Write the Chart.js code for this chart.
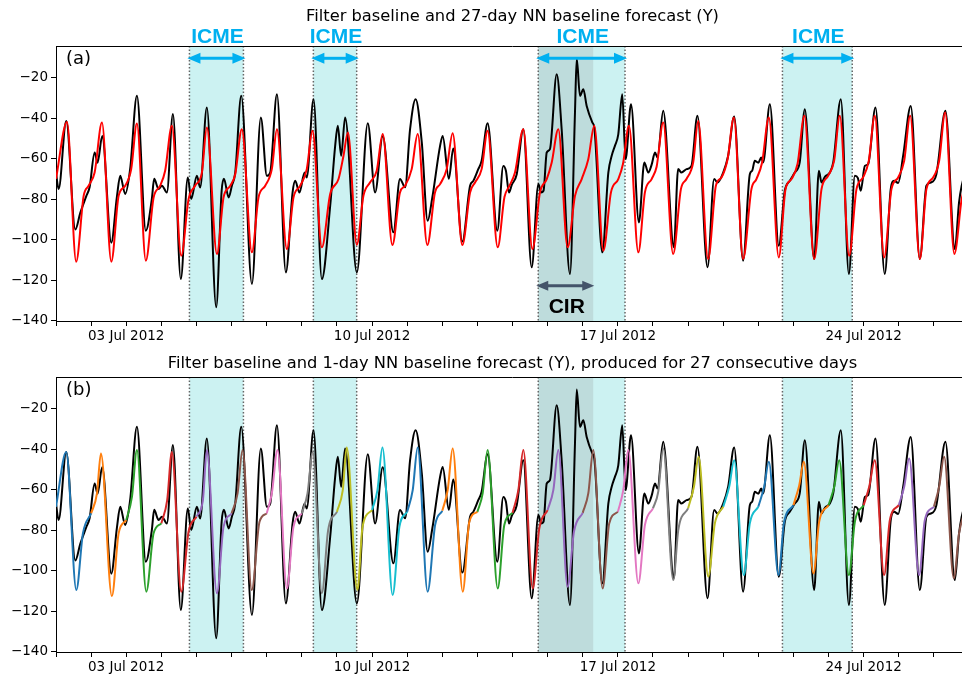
<!DOCTYPE html>
<html><head><meta charset="utf-8">
<script src="https://cdn.jsdelivr.net/npm/chart.js@4.4.0/dist/chart.umd.min.js"></script>
<style>
html,body{margin:0;padding:0;background:#fff;overflow:hidden;width:962px;height:677px;}
canvas{position:absolute;left:0;}
#c1{top:0;}
#c2{top:340px;}
</style></head><body>
<canvas id="c1" width="980" height="350"></canvas>
<canvas id="c2" width="980" height="337"></canvas>
<script>
// ---- time axis (hours since 01 Jul 2012 00:00) ----
const tickHours = [48, 216, 384, 552];
const tickLabels = ['03 Jul 2012', '10 Jul 2012', '17 Jul 2012', '24 Jul 2012'];
const yTickValues = [-140, -120, -100, -80, -60, -40, -20];

// ---- event intervals (hours) ----
const icmeStart = [91.2, 175.9, 329.6, 496.5];
const icmeEnd   = [128.1, 205.5, 388.9, 544.2];
const cirStart  = [329.6];
const cirEnd    = [367.2];

// ---- filter baseline (observed, black) ----
const obsHours = [
 0,1.8,7.0,13.2,16.6,20.7,23,
 26.4,28.4,31.6,37.8,41.6,43.9,47.3,
 50.7,55.3,61.4,65.5,67.1,70.1,
 72.4,75.8,79.9,85.3,90.1,92.4,
 96.3,98.5,103.1,109.5,113.2,114.8,118,
 120.2,122.5,126.6,133.9,140,
 144.1,146.4,151,157.1,161.7,163.5,166.4,
 169.9,171.4,176,181.7,187.4,190.8,
 192.6,194.9,197.6,205.6,213.1,
 218.1,223.3,230.6,235.1,238.6,
 242,245.8,250,254,257.2,262.5,
 264.3,268.5,271.5,277.7,283,285.2,
 288.6,290.9,295,301.6,305.7,307.5,309.6,311.5,
 314.9,319.4,325.1,329.7,331.5,333.2,335.4,
 337.6,342.2,345.6,351.3,354.7,355.9,358.1,
 360.4,362.7,366.6,367.9,373.4,377.5,379.8,382,
 384.3,387,389.3,393,398.4,402.1,404.8,407.1,
 409.4,411.1,415,422.3,425.2,427.5,430.9,
 434.3,438.4,445.3,449.8,452.1,
 456,459.4,463.5,469.6,474.2,475.8,477.6,
 480,482,483.3,487.9,494,498.1,501.5,
 504.9,508.3,511.8,518.2,521.4,523.2,525.5,
 528.9,531.2,536.4,541.9,546,548,550,
 552.8,555.1,560.1,566.4,570.5,572.8,575.6,
 579,584.2,590.4,594.9,597.9,
 601.7,607.9,614.3,617.2,619,622,624
];
const obsValues = [
 -67,-75,-41.4,-95,-86.8,-78.5,-74,
 -57,-62,-48.8,-101.5,-79,-68.5,-77.5,
 -65,-29,-95.6,-80,-70,-75,
 -73.4,-76.7,-38,-119.5,-69.3,-80,
 -68.5,-74.3,-34.8,-133.4,-76,-70,-79.2,
 -73.4,-66.9,-29,-121.9,-39.7,
 -68.5,-66.9,-28.2,-116.2,-76.7,-71,-76.7,
 -66.9,-69.3,-30.7,-119.5,-83.3,-53.7,
 -43.8,-58.6,-39.7,-116.2,-42.5,
 -76.7,-49,-96.4,-70.1,-74.2,
 -45.5,-30.7,-52,-90.7,-79.2,-53.7,
 -48.8,-70,-55,-101,-73.4,-71,
 -65.2,-61.1,-42.5,-95.6,-63.6,-66,-76.7,-73,
 -67.7,-45.5,-113.7,-72.6,-76.7,-75.9,-57,
 -55.3,-18.4,-45.5,-117,-37.3,-10.6,-29,
 -25.8,-34,-42.2,-44.7,-106.3,-66.9,-58.6,-53.7,
 -48,-28.2,-60.3,-33.2,-91.5,-61.9,-66.9,-63,
 -57,-59.5,-36.4,-103.8,-65.2,-66.9,-65.2,
 -63.6,-38.9,-113.7,-70.1,-71.8,
 -66.9,-58.6,-39.2,-110.4,-67.7,-66,-61.1,
 -62,-59.5,-61.9,-33.2,-103,-75.9,-71,
 -66.9,-61.9,-35.6,-109.6,-66,-71.8,-69,
 -66.9,-61.9,-30.7,-117,-68.5,-69.5,-75.9,
 -63.6,-62.7,-34.8,-117,-75.1,-71,-72,
 -58.6,-34,-109.6,-73.4,-71.8,
 -67.7,-36.4,-104.7,-81.6,-73.4,-66,-62
];

// ---- 27-day NN baseline forecast (red, panel a) ----
const fc27Hours = [
 0,7.5,13.8,18.9,22.3,
 26.4,31.4,37.8,42.8,47.3,
 51.4,55.3,61.4,66.7,71.2,
 74.6,79.2,85.6,90.6,95.1,
 99.7,103.1,110,114.5,119.1,
 122.5,127,133.9,138.4,143,
 147.5,151,157.8,162.3,166.9,
 171.4,175.3,181.7,187.4,
 193.1,196.5,199.5,205.6,210.1,214.6,
 219.2,223.3,229.9,235.1,238.6,
 243.1,247.2,253.8,259,262.5,
 267,271.1,277.7,283,286.4,
 290.9,295,301.9,306.5,309.5,
 313.7,319.4,325.6,330.8,335.4,
 338.8,343.3,349.7,354.7,359.3,
 363.8,367.9,374.1,379.3,
 384.3,387.5,391.6,398,402.5,407.1,
 410.5,415,421.8,427.1,430.9,
 435.5,438.9,445.7,451,454.8,
 459,463.3,469.6,475.3,478.7,
 482.6,487.2,494,498.6,502.7,
 506.8,511.5,518.2,523.2,527.7,
 531.8,535.7,542.1,547.1,551.6,
 555.5,559.6,566,571,575.6,
 579.7,583.8,590.4,594.9,599.5,
 603.6,607.7,614,619,622,624
];
const fc27Values = [
 -70,-41.9,-110.9,-78.4,-73.4,
 -66.9,-42.2,-110.9,-78.4,-73.4,
 -65.2,-42.7,-110.4,-79.2,-73.4,
 -66,-43.8,-108,-80,-73.4,
 -66.9,-44.7,-107.1,-79.2,-73.4,
 -67.7,-45.5,-106.3,-79.2,-73.4,
 -65.2,-45.5,-104.7,-79.2,-73.4,
 -65.2,-46.3,-103.8,-77.5,
 -70.1,-58.6,-47.1,-102.5,-78.4,-71.8,
 -66,-47.9,-102.7,-76.7,-73.4,
 -65.2,-47.9,-102.7,-76.7,-72.6,
 -65.2,-47.5,-102.7,-76.7,-71.8,
 -65.2,-46.3,-103.8,-79,-74,
 -66.9,-45.5,-104.7,-76.7,-70.1,
 -61.9,-45.5,-103.8,-78.4,-70.1,
 -60.3,-43.8,-105.5,-76.7,
 -70.1,-62.7,-43.8,-106.3,-76.7,-70.1,
 -64,-42.2,-107.1,-75.1,-70.1,
 -61.9,-41.4,-109.6,-73.4,-69.3,
 -60.3,-39.7,-109.6,-75.1,-70.1,
 -61.9,-39.7,-108.8,-75.1,-70.1,
 -62.7,-38.9,-109.6,-75.1,-68.5,
 -61.1,-38.9,-108,-75.1,-69.3,
 -61.1,-38.9,-108.8,-75.1,-69.3,
 -61.1,-38.9,-109.6,-75.1,-69.3,
 -61.1,-37.3,-107.1,-80,-72,-68
];

// ---- 1-day NN baseline forecasts, one per day (panel b) ----
const fc1Hours = [
 0,7,13.9,18.4,24,
 24,28,30.7,38.2,42.8,48,
 48,51.9,55.3,61.7,66.7,72,
 72,76,79.2,85.6,90.6,96,
 96,100.4,103.1,110,114.5,120,
 120,124.1,127.5,133.8,139.1,144,
 144,147.5,151.4,157.8,162.3,168,
 168,171.9,175.5,181.7,186,192,
 192,196,198.7,206,209.5,216,
 216,219.7,223.1,230.1,234.7,240,
 240,243.8,247.2,254,259.1,264,
 264,267.7,271.1,278,282.5,288,
 288,291.6,295,301.9,306.4,312,
 312,316,319.4,325.8,330.3,336,
 336,339.9,343.3,349.7,354,360,
 360,363.8,367.2,373.6,378.1,384,
 384,387.7,391.1,398,402.5,408,
 408,411.6,415,421.9,425.3,432,
 432,436,439.2,445.8,450.3,456,
 456,460.1,463.5,470.1,474.2,480,
 480,484,487.2,493.8,497.5,504,
 504,508,511.1,517.7,521.6,528,
 528,531.9,535.3,541.9,546,552,
 552,555.8,559.6,566,569.9,576,
 576,579.7,583.1,589.9,593.8,600,
 600,603.6,607,613.6,617.2,620,624
];
const fc1Values = [
 -68.5,-41.4,-109.6,-81.6,-71.8,
 -71.8,-61.9,-42.2,-112.6,-81.6,-75.1,
 -75.1,-63.6,-40.5,-110.4,-81.6,-76.7,
 -76.7,-65.2,-41.4,-110.4,-80.8,-73.4,
 -73.4,-65.2,-40.5,-111.2,-78.4,-71.8,
 -71.8,-61.9,-40.5,-109.6,-75.9,-71.8,
 -71.8,-61.9,-40.5,-108.8,-78.4,-71.8,
 -71.8,-61.9,-41.4,-111.2,-80,-71,
 -71,-60.3,-39.2,-109.6,-78.4,-70.1,
 -70.1,-60.3,-39.2,-112,-78.4,-71,
 -71,-60.3,-39.2,-110.4,-77.5,-70.5,
 -70.5,-60.3,-39.7,-110.4,-75.9,-71,
 -71,-61.9,-40.5,-108.8,-77.5,-71.5,
 -71.5,-60.3,-40.5,-108.8,-79.2,-70.1,
 -70.1,-60.3,-40.5,-108,-80.8,-71.5,
 -71.5,-61.9,-40.5,-108.8,-76.7,-71,
 -71,-60.3,-40.5,-106.3,-77.5,-69.3,
 -69.3,-61.1,-39.7,-104.7,-80,-69.3,
 -69.3,-58.6,-43.8,-103,-76.7,-68.5,
 -68.5,-58.6,-45.5,-102.2,-76.7,-68.5,
 -68.5,-58.6,-46.3,-102.2,-76.7,-67.7,
 -67.7,-57.8,-46.3,-101.4,-75.9,-67.7,
 -67.7,-58.6,-45.5,-102.2,-75.9,-67.7,
 -67.7,-58.6,-45.5,-102.2,-75.1,-67.7,
 -67.7,-58.6,-44.7,-102.2,-75.1,-68.5,
 -68.5,-58.6,-43.8,-103.8,-81.6,-73.4,-68
];
const forecastDays = 26;
const tab10 = ['#1f77b4','#ff7f0e','#2ca02c','#d62728','#9467bd','#8c564b','#e377c2','#7f7f7f','#bcbd22','#17becf'];

// ---------------------------------------------------------------
const toXY = (ts, vs) => ts.map((t, i) => ({x: t, y: vs[i]}));
const FONT = 'DejaVu Sans';

function scales(xAxisHeight) {
  return {
    x: {
      type: 'linear', min: 0, max: 624,
      afterBuildTicks: s => { const a = []; for (let h = 0; h <= 624; h += 24) a.push({value: h}); s.ticks = a; },
      afterFit: s => { s.height = xAxisHeight; },
      ticks: {
        autoSkip: false, maxRotation: 0, padding: 2, color: '#000',
        font: {family: FONT, size: 13.5},
        callback: v => { const i = tickHours.indexOf(v); return i >= 0 ? tickLabels[i] : ''; }
      },
      grid: {drawOnChartArea: false, drawTicks: true, tickLength: 5, tickColor: '#000', tickWidth: 1},
      border: {display: true, color: '#000', width: 1}
    },
    y: {
      min: -140.2, max: -4.4,
      afterBuildTicks: s => { s.ticks = yTickValues.map(v => ({value: v})); },
      afterFit: s => { s.width = 56; },
      ticks: {
        padding: 3, color: '#000', font: {family: FONT, size: 13.5},
        callback: v => (v < 0 ? '\u2212' : '') + Math.abs(v)
      },
      grid: {drawOnChartArea: false, drawTicks: true, tickLength: 5, tickColor: '#000', tickWidth: 1},
      border: {display: true, color: '#000', width: 1}
    }
  };
}

function drawArrow(ctx, x1, x2, y, color, lw, hl, hw) {
  ctx.save();
  ctx.strokeStyle = color; ctx.fillStyle = color; ctx.lineWidth = lw; ctx.setLineDash([]);
  ctx.beginPath(); ctx.moveTo(x1 + hl * 0.7, y); ctx.lineTo(x2 - hl * 0.7, y); ctx.stroke();
  ctx.beginPath(); ctx.moveTo(x1, y); ctx.lineTo(x1 + hl, y - hw / 2); ctx.lineTo(x1 + hl, y + hw / 2); ctx.closePath(); ctx.fill();
  ctx.beginPath(); ctx.moveTo(x2, y); ctx.lineTo(x2 - hl, y - hw / 2); ctx.lineTo(x2 - hl, y + hw / 2); ctx.closePath(); ctx.fill();
  ctx.restore();
}

const overlay = {
  id: 'overlay',
  beforeDatasetsDraw(chart, args, o) {
    const {ctx, chartArea: a, scales: {x}} = chart;
    ctx.save();
    ctx.beginPath(); ctx.rect(a.left, a.top, a.right - a.left, a.bottom - a.top); ctx.clip();
    ctx.fillStyle = 'rgba(0,191,191,0.2)';
    icmeStart.forEach((s, i) => {
      const x1 = x.getPixelForValue(s), x2 = x.getPixelForValue(icmeEnd[i]);
      ctx.fillRect(x1, a.top, x2 - x1, a.bottom - a.top);
    });
    ctx.fillStyle = 'rgba(128,128,128,0.2)';
    cirStart.forEach((s, i) => {
      const x1 = x.getPixelForValue(s), x2 = x.getPixelForValue(cirEnd[i]);
      ctx.fillRect(x1, a.top, x2 - x1, a.bottom - a.top);
    });
    ctx.strokeStyle = '#666'; ctx.lineWidth = 1.5; ctx.setLineDash([1.5, 2]);
    icmeStart.concat(icmeEnd).forEach(h => {
      const px = x.getPixelForValue(h);
      ctx.beginPath(); ctx.moveTo(px, a.top); ctx.lineTo(px, a.bottom); ctx.stroke();
    });
    ctx.restore();
  },
  afterDatasetsDraw(chart, args, o) {
    const {ctx, chartArea: a, scales: {x}} = chart;
    ctx.save();
    // frame top line
    ctx.strokeStyle = '#000'; ctx.lineWidth = 1;
    ctx.beginPath(); ctx.moveTo(a.left, Math.floor(a.top) + 0.5); ctx.lineTo(a.right, Math.floor(a.top) + 0.5); ctx.stroke();
    // title
    ctx.fillStyle = '#000'; ctx.textAlign = 'center'; ctx.textBaseline = 'alphabetic';
    ctx.font = '16.3px "' + FONT + '"';
    ctx.fillText(o.title, (a.left + a.right) / 2, o.titleY);
    // panel label
    ctx.textAlign = 'left'; ctx.font = '18px "' + FONT + '"';
    ctx.fillText(o.label, a.left + 10, a.top + 18);
    if (o.events) {
      icmeStart.forEach((s, i) => {
        const x1 = x.getPixelForValue(s), x2 = x.getPixelForValue(icmeEnd[i]);
        drawArrow(ctx, x1 - 2, x2 + 2, a.top + 12.3, '#00b0f0', 3, 13, 11);
        ctx.fillStyle = '#00b0f0'; ctx.textAlign = 'center';
        ctx.font = 'bold 21px "Liberation Sans"';
        ctx.fillText('ICME', (x1 + x2) / 2 + 1, 43.3);
      });
      cirStart.forEach((s, i) => {
        const x1 = x.getPixelForValue(s), x2 = x.getPixelForValue(cirEnd[i]);
        drawArrow(ctx, x1 - 2, x2 + 1, 285.7, '#44546a', 3, 12, 10);
        ctx.fillStyle = '#000'; ctx.textAlign = 'center';
        ctx.font = 'bold 21px "Liberation Sans"';
        ctx.fillText('CIR', (x1 + x2) / 2 + 1, 312.7);
      });
    }
    ctx.restore();
  }
};

const common = (xAxisHeight, padTop, ov) => ({
  responsive: false, animation: false, devicePixelRatio: 1,
  layout: {padding: {top: padTop, right: 11, left: 0, bottom: 0}},
  elements: {point: {radius: 0}, line: {borderWidth: 2, cubicInterpolationMode: 'monotone'}},
  plugins: {legend: {display: false}, tooltip: {enabled: false}, title: {display: false}, overlay: ov},
  scales: scales(xAxisHeight)
});

// Panel (a)
new Chart(document.getElementById('c1'), {
  type: 'line',
  data: {datasets: [
    {data: toXY(fc27Hours, fc27Values), borderColor: '#ff0000', fill: false},
    {data: toXY(obsHours, obsValues), borderColor: '#000000', fill: false}
  ]},
  options: common(29, 46, {title: 'Filter baseline and 27-day NN baseline forecast (Y)', titleY: 21, label: '(a)', events: true}),
  plugins: [overlay]
});

// Panel (b): one dataset per forecast day
const fc1Sets = [];
for (let d = 0; d < forecastDays; d++) {
  const pts = [];
  fc1Hours.forEach((t, i) => {
    if (t >= d * 24 && t <= d * 24 + 24) {
      if (!pts.length || pts[pts.length - 1].x !== t) pts.push({x: t, y: fc1Values[i]});
    }
  });
  fc1Sets.push({data: pts, borderColor: tab10[d % 10], fill: false});
}
new Chart(document.getElementById('c2'), {
  type: 'line',
  data: {datasets: fc1Sets.concat([{data: toXY(obsHours, obsValues), borderColor: '#000000', fill: false}])},
  options: common(25, 37, {title: 'Filter baseline and 1-day NN baseline forecast (Y), produced for 27 consecutive days', titleY: 28.3, label: '(b)', events: false}),
  plugins: [overlay]
});
</script>
</body></html>
